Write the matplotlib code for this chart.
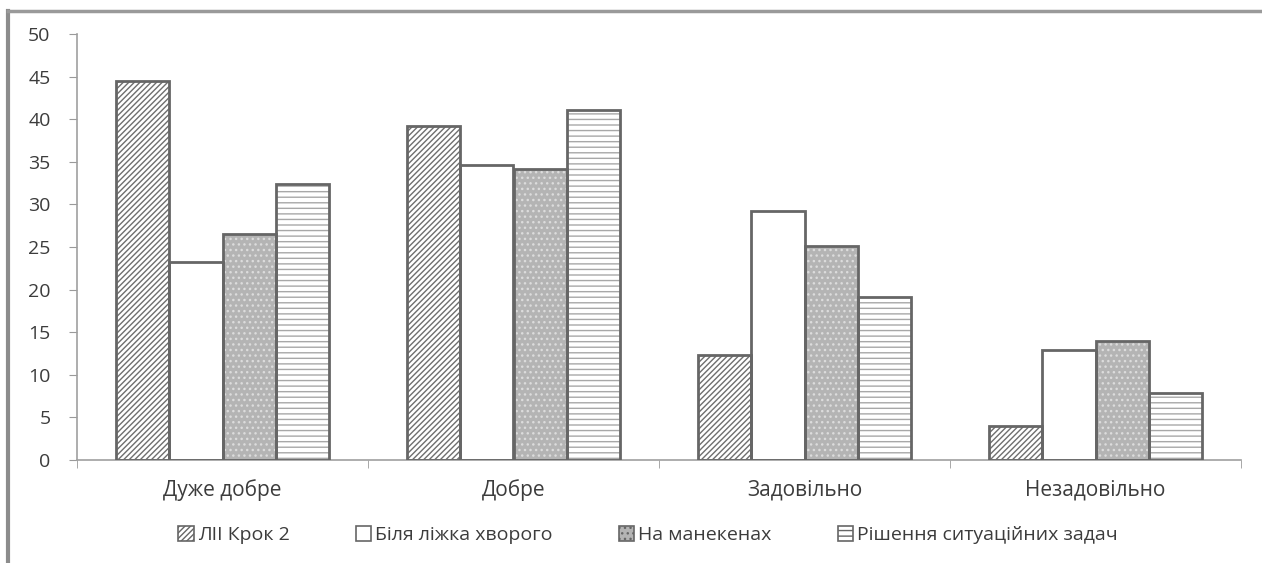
import numpy as np
import matplotlib
matplotlib.use("Agg")
import matplotlib.pyplot as plt
from matplotlib.patches import Patch
from matplotlib.lines import Line2D

categories = ["Дуже добре", "Добре", "Задовільно", "Незадовільно"]
series_names = ["ЛІІ Крок 2", "Біля ліжка хворого", "На манекенах", "Рішення ситуаційних задач"]
lii = [44.5, 39.2, 12.3, 4.0]
bed = [23.2, 34.6, 29.2, 12.9]
mannequin = [26.5, 34.2, 25.1, 14.0]
tasks = [32.4, 41.1, 19.1, 7.9]
yticks = [0, 5, 10, 15, 20, 25, 30, 35, 40, 45, 50]

plt.rcParams['font.family'] = ['Open Sans', 'DejaVu Sans']
plt.rcParams['hatch.linewidth'] = 1.0

# fill colour, hatch, hatch colour
styles = [
    ("white", "//////", "#6e6e6e"),
    ("white", None, "white"),
    ("#b4b4b4", "...", "#dcdcdc"),
    ("white", "---", "#a8a8a8"),
]
edge = "#666666"
text_col = "#3c3c3c"

fig = plt.figure(figsize=(12.62, 5.63), dpi=100)
ax = fig.add_axes([77/1262, 1-460/563, 1164/1262, 426/563])

x = np.arange(len(categories))
w = 0.73/4
data = [lii, bed, mannequin, tasks]
handles = []
for i, vals in enumerate(data):
    fc, hatch, hc = styles[i]
    pos = x - 0.365 + w*(i+0.5)
    # hatch layer
    ax.bar(pos, vals, w, color=fc, edgecolor=hc, hatch=hatch, linewidth=0, zorder=2)
    # outline
    ax.bar(pos, vals, w, fill=False, edgecolor=edge, linewidth=2, zorder=3)
    handles.append(Patch(facecolor=fc, edgecolor=edge, hatch=hatch, linewidth=1.2))

ax.set_xlim(-0.5, len(categories)-0.5)
ax.set_ylim(0, 50)
ax.set_yticks(yticks)
ax.set_yticklabels([str(v) for v in yticks], fontsize=14, color=text_col)
ax.set_xticks(x)
ax.set_xticklabels(categories, fontsize=15, color=text_col)
ax.tick_params(axis='x', length=0, pad=14)
ax.tick_params(axis='y', length=6, color="#9a9a9a", pad=13)
ax.set_xticks(np.arange(-0.5, len(categories)), minor=True)
ax.tick_params(axis='x', which='minor', length=6, color="#9a9a9a")

for s in ["top", "right"]:
    ax.spines[s].set_visible(False)
for s in ["left", "bottom"]:
    ax.spines[s].set_color("#a0a0a0")
    ax.spines[s].set_linewidth(1.2)

fig.legend(handles, series_names, loc="center", bbox_to_anchor=(648/1262, 1-535/563),
           ncol=4, frameon=False, fontsize=14, handlelength=0.8, handleheight=0.8,
           handletextpad=0.2, columnspacing=3.4, labelcolor=text_col)

# outer frame (left and top edges visible)
fig.add_artist(Line2D([8/1262, 8/1262], [0, 1-11/563], color="#8c8c8c", linewidth=3))
fig.add_artist(Line2D([8/1262, 1], [1-11/563, 1-11/563], color="#9a9a9a", linewidth=2.5))

fig.savefig("out.png", dpi=100)
